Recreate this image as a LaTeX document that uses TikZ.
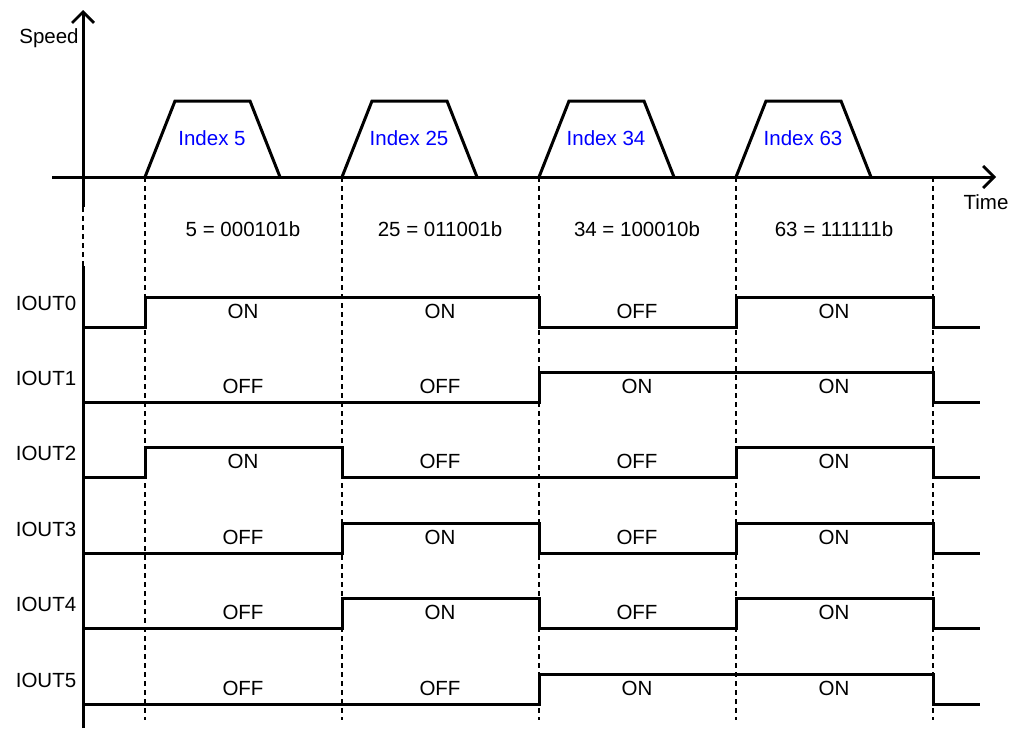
\documentclass[tikz,border=0pt]{standalone}
\usepackage{fontspec}
\setmainfont{Liberation Sans}
\usetikzlibrary{positioning,arrows.meta}

\begin{document}
\begin{tikzpicture}[x=1pt,y=-1pt,
  >={Straight Barb[length=11pt,width=22pt,line width=2.8pt]},
  axis/.style={line width=3pt},
  wave/.style={line width=3pt},
  guide/.style={line width=1.5pt,dash pattern=on 5pt off 4pt},
  txt/.style={font=\fontsize{20.5}{24}\selectfont,inner sep=0pt},
  idx/.style={txt,text=blue}]
\useasboundingbox (0,0) rectangle (1016,731);
% axes
\draw[axis] (83,728) -- (83,266);
\draw[guide] (83,266) -- (83,207);
\draw[axis,->] (83,207) -- (83,10);
\draw[axis,->] (52,177) -- (996,177);
\node[txt] (speed) at (49,38) {Speed};
\node[txt] (time) at (986,202) {Time};
% speed profiles
\foreach \x/\n/\bin in {145/5/000101,342/25/011001,539/34/100010,736/63/111111} {
  \draw[axis] (\x,177) -- ++(30,-76) -- ++(75,0) -- ++(30,76);
  \node[idx] (idx\n) at (\x+67,138) {Index \n};
  \node[txt] (bin\n) at (\x+98,229) {\n\ = \bin b};
}
\foreach \x in {145,342,539,736,933}
  \draw[guide] (\x,177) -- (\x,720);
% outputs
\foreach \r/\a/\b/\c/\d in {0/1/1/0/1,1/0/0/1/1,2/1/0/0/1,3/0/1/0/1,4/0/1/0/1,5/0/0/1/1} {
  \pgfmathsetmacro{\hi}{297+75.4*\r}
  \pgfmathsetmacro{\lo}{\hi+30}
  \node[txt] (io\r) at (46,\hi+6) {IOUT\r};
  \draw[wave] (83,\lo) foreach \s [count=\k from 0] in {\a,\b,\c,\d} { -| (145+197*\k,\lo-30*\s) } -| (933,\lo) -- (980,\lo);
  \foreach \s [count=\k from 0] in {\a,\b,\c,\d}
    \node[txt] (st\r\k) at (243+197*\k,\hi+14) {\ifnum\s=1 ON\else OFF\fi};
}
\end{tikzpicture}
\end{document}
